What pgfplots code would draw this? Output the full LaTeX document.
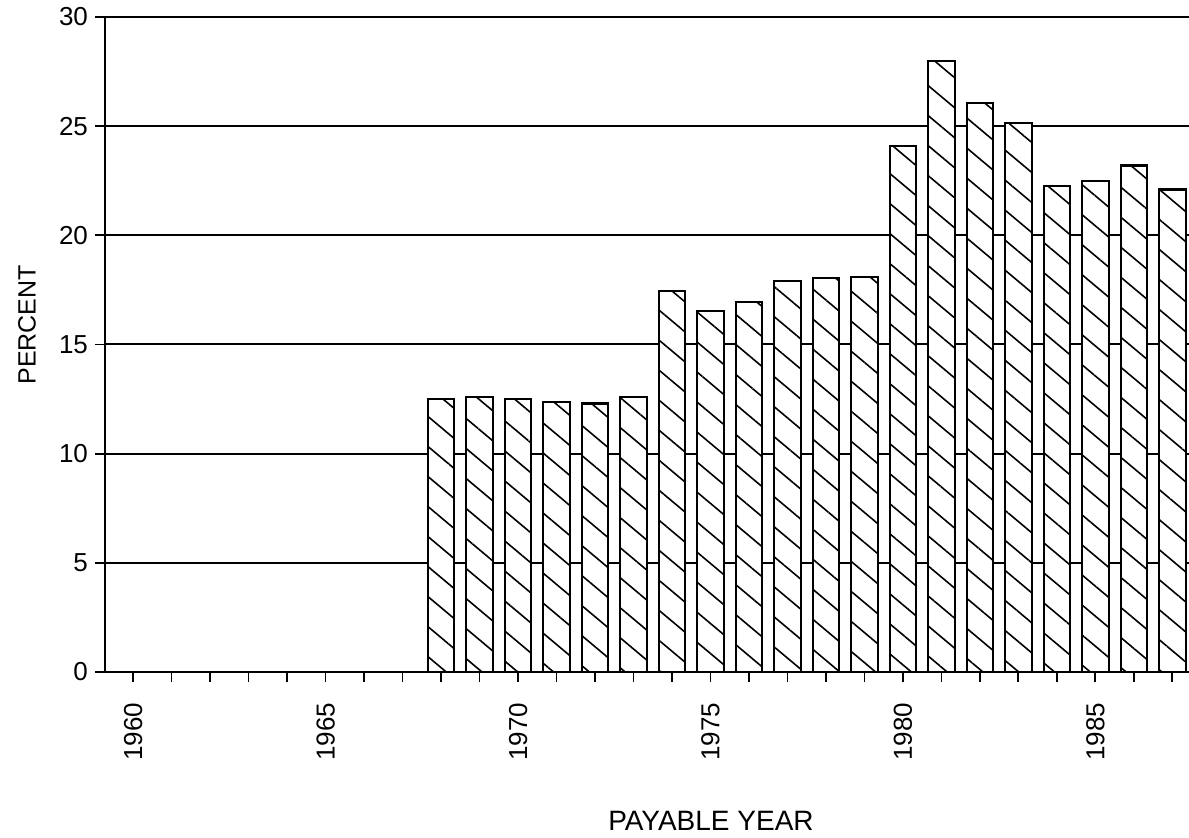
\documentclass[border=0pt]{standalone}
\usepackage{fontspec}
\setmainfont{Liberation Sans}
\usepackage{pgfplots}
\pgfplotsset{compat=1.18}
\usetikzlibrary{patterns.meta}
\begin{document}
\begin{tikzpicture}
\begin{axis}[
  scale only axis, width=542pt, height=327.5pt,
  xmin=1959.27, xmax=1987.43, ymin=0, ymax=30,
  axis x line*=bottom, axis y line*=left,
  axis line style={line width=1pt, black},
  ytick={0,5,...,30},
  xtick={1960,1965,...,1985},
  minor xtick={1960,...,1987},
  tick align=outside,
  major tick length=5pt, minor tick length=5pt,
  every tick/.style={line width=0.9pt, black},
  ymajorgrids, major grid style={line width=1pt, black},
  /pgf/number format/assume math mode=true,
  /pgf/number format/set thousands separator={},
  tick label style={font=\fontsize{13}{13}\selectfont},
  xticklabel style={rotate=90, anchor=east, xshift=-7pt},
  xlabel={PAYABLE YEAR}, ylabel={PERCENT},
  label style={font=\fontsize{14}{16}\selectfont},
  xlabel style={at={(axis description cs:0.559,0)}, anchor=center, yshift=-74.5pt},
  ylabel style={at={(axis description cs:-0.072,0.53)}, anchor=center, font=\fontsize{12.5}{14}\selectfont},
  ybar, bar width=0.69,
]
\addplot[draw=black, line width=1.1pt, fill=white,
  postaction={pattern={Lines[angle=-40, distance=11.5pt, line width=0.8pt]}}]
coordinates {
(1968,12.5) (1969,12.6) (1970,12.5) (1971,12.35) (1972,12.3) (1973,12.6)
(1974,17.45) (1975,16.55) (1976,16.95) (1977,17.9) (1978,18.05) (1979,18.1)
(1980,24.1) (1981,28.0) (1982,26.05) (1983,25.15) (1984,22.25) (1985,22.5)
(1986,23.2) (1987,22.1)
};
\end{axis}
\pgfresetboundingbox
\useasboundingbox (-52.5pt,-83pt) rectangle (542pt,336pt);
\end{tikzpicture}
\end{document}
